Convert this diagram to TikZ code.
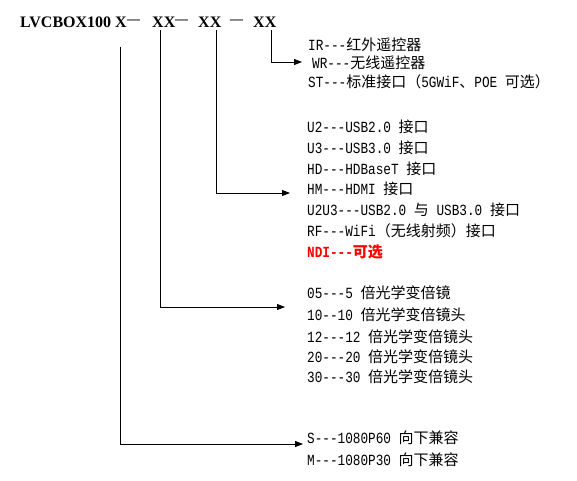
\documentclass[tikz,border=0pt]{standalone}
\usepackage{fontspec}
\usetikzlibrary{arrows.meta}
\newfontfamily\cjkf{Noto Sans CJK SC}
\newfontfamily\monof[FakeStretch=0.82]{Liberation Mono}
\newfontfamily\hdrf{Liberation Serif}
\newcommand\ZH[1]{{\fontsize{15}{18}\cjkf #1}}
\newcommand\HDASH{\raisebox{3.5pt}{\fontsize{13}{18}\selectfont —}}
\begin{document}
\begin{tikzpicture}[x=1pt,y=-1pt,
  hdr/.style={inner sep=0pt,anchor=base west,font=\fontsize{16}{18}\hdrf\bfseries},
  item/.style={inner sep=0pt,anchor=base west,font=\fontsize{15.5}{18}\monof},
  redit/.style={item,text=red,font=\fontsize{15.5}{18}\monof\bfseries},
  conn/.style={line width=0.8pt,-{Triangle[length=8pt,width=6pt]}}]
\useasboundingbox[fill=white] (0,0) rectangle (577,480);
% header
\node[hdr] (hname) at (20,27) {LVCBOX100};
\node[hdr] (hx) at (115,27) {X};
\node[hdr] (hd1) at (127,27) {\HDASH};
\node[hdr] (hxx1) at (152,27) {XX};
\node[hdr] (hd2) at (175,27) {\HDASH};
\node[hdr] (hxx2) at (198,27) {XX};
\node[hdr] (hd3) at (230,27) {\HDASH};
\node[hdr] (hxx3) at (253,27) {XX};
% group 1
\node[item] (ir) at (308,50) {IR---\ZH{红外遥控器}};
\node[item] (wr) at (312,68) {WR---\ZH{无线遥控器}};
\node[item] (st) at (308,87) {ST---\ZH{标准接口（}5GWiF\ZH{、}POE \ZH{可选）}};
% group 2
\node[item] (u2) at (307,132) {U2---USB2.0 \ZH{接口}};
\node[item] (u3) at (307,153) {U3---USB3.0 \ZH{接口}};
\node[item] (hd) at (307,174) {HD---HDBaseT \ZH{接口}};
\node[item] (hm) at (307,194) {HM---HDMI \ZH{接口}};
\node[item] (uu) at (307,215) {U2U3---USB2.0 \ZH{与} USB3.0 \ZH{接口}};
\node[item] (rf) at (307,236) {RF---WiFi\ZH{（无线射频）接口}};
\node[redit] (ndi) at (307,257) {NDI---\ZH{\bfseries 可选}};
% group 3
\node[item] (z05) at (307,298) {05---5 \ZH{倍光学变倍镜}};
\node[item] (z10) at (307,320) {10--10 \ZH{倍光学变倍镜头}};
\node[item] (z12) at (307,342) {12---12 \ZH{倍光学变倍镜头}};
\node[item] (z20) at (307,362) {20---20 \ZH{倍光学变倍镜头}};
\node[item] (z30) at (307,382) {30---30 \ZH{倍光学变倍镜头}};
% group 4
\node[item] (rs) at (307,443) {S---1080P60 \ZH{向下兼容}};
\node[item] (rm) at (307,465) {M---1080P30 \ZH{向下兼容}};
% connectors
\coordinate (s1) at (120,47);
\coordinate (s2) at (160,30);
\coordinate (s3) at (216,30);
\coordinate (s4) at (271,30);
\coordinate (t1) at (303,444);
\coordinate (t2) at (285,307);
\coordinate (t3) at (290,193);
\coordinate (t4) at (302,62);
\draw[conn] (s1) |- (t1);
\draw[conn] (s2) |- (t2);
\draw[conn] (s3) |- (t3);
\draw[conn] (s4) |- (t4);
\end{tikzpicture}
\end{document}
